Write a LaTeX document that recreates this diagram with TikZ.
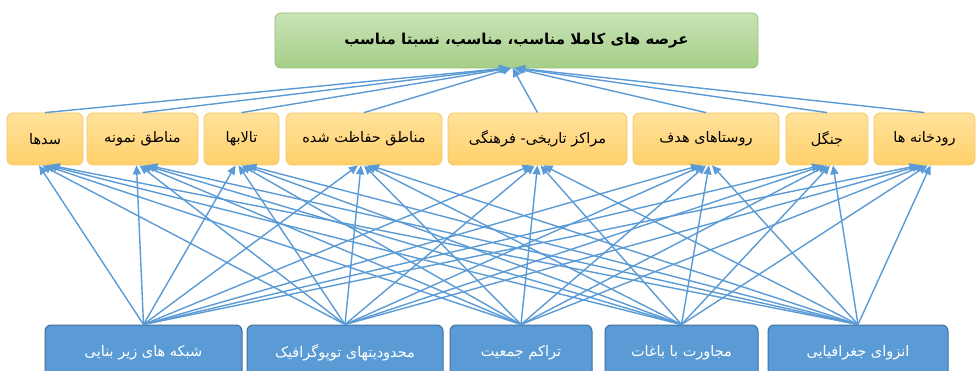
\documentclass[tikz,border=0pt]{standalone}
\usepackage{fontspec}
\newfontfamily\arabicfont[Script=Arabic]{DejaVu Sans}
\TeXXeTstate=1
\usetikzlibrary{arrows.meta}
\definecolor{arrowblue}{HTML}{5B9BD5}
\definecolor{midtop}{HTML}{FFE29C}
\definecolor{midbot}{HTML}{FFD06A}
\definecolor{midedge}{HTML}{F6C768}
\definecolor{grntop}{HTML}{C9E3B6}
\definecolor{grnbot}{HTML}{A5CF88}
\definecolor{grnedge}{HTML}{93BF78}
\definecolor{bluefill}{HTML}{5B9BD5}
\definecolor{blueedge}{HTML}{41719C}
\tikzset{
  midbox/.style={draw=midedge, line width=0.8pt, rounded corners=6pt, top color=midtop, bottom color=midbot,
    minimum height=52pt, inner sep=0pt, font=\arabicfont\fontsize{14.5}{17}\selectfont, text=black},
  topbox/.style={draw=grnedge, line width=0.8pt, rounded corners=6pt, top color=grntop, bottom color=grnbot,
    minimum height=55pt, minimum width=483pt, inner sep=0pt, font=\arabicfont\bfseries\fontsize{15}{18}\selectfont},
  botbox/.style={draw=blueedge, line width=1pt, rounded corners=6pt, fill=bluefill,
    minimum height=56pt, inner sep=0pt, font=\arabicfont\fontsize{14.5}{17}\selectfont, text=white},
  conn/.style={draw=arrowblue, line width=1.4pt, -{Triangle[length=9pt,width=8pt]}}
}
\begin{document}
\begin{tikzpicture}[x=1pt,y=-1pt]
\useasboundingbox (0,0) rectangle (976,371);
\fill[white] (0,0) rectangle (976,371);

\node[topbox] (top) at (516.5,40.5) {\beginR عرصه های کاملا مناسب، مناسب، نسبتا مناسب\endR};

\node[midbox, minimum width=76pt]  (m1) at (45,139)    {\beginR سدها\endR};
\node[midbox, minimum width=111pt] (m2) at (142.5,139) {\beginR مناطق نمونه\endR};
\node[midbox, minimum width=75pt]  (m3) at (241.5,139) {\beginR تالابها\endR};
\node[midbox, minimum width=156pt] (m4) at (364,139)   {\beginR مناطق حفاظت شده\endR};
\node[midbox, minimum width=179pt] (m5) at (537.5,139) {\beginR مراکز تاریخی- فرهنگی\endR};
\node[midbox, minimum width=146pt] (m6) at (706,139)   {\beginR روستاهای هدف\endR};
\node[midbox, minimum width=82pt]  (m7) at (827,139)   {\beginR جنگل\endR};
\node[midbox, minimum width=101pt] (m8) at (924.5,139) {\beginR رودخانه ها\endR};

\begin{scope}
\clip (0,0) rectangle (976,371);
\node[botbox, minimum width=197pt] (b1) at (143.5,353) {\beginR شبکه های زیر بنایی\endR};
\node[botbox, minimum width=196pt] (b2) at (345,353)   {\beginR محدودیتهای توپوگرافیک\endR};
\node[botbox, minimum width=142pt] (b3) at (521,353)   {\beginR تراکم جمعیت\endR};
\node[botbox, minimum width=153pt] (b4) at (681.5,353) {\beginR مجاورت با باغات\endR};
\node[botbox, minimum width=180pt] (b5) at (858,353)   {\beginR انزوای جغرافیایی\endR};
\end{scope}

\foreach \s [count=\i] in {b1,b2,b3,b4,b5}{
  \foreach \t in {m1,m2,m3,m4,m5,m6,m7,m8}{
    \draw[conn] (\s.north) -- ([xshift={(\i-3)*3pt}]\t.south);
  }
}

\coordinate (tp) at (512,68);
\foreach \t [count=\j] in {m1,m2,m3,m4,m5,m6,m7,m8}{
  \draw[conn] (\t.north) -- ([xshift={(\j-4.5)*1.2pt}]tp);
}
\end{tikzpicture}
\end{document}
